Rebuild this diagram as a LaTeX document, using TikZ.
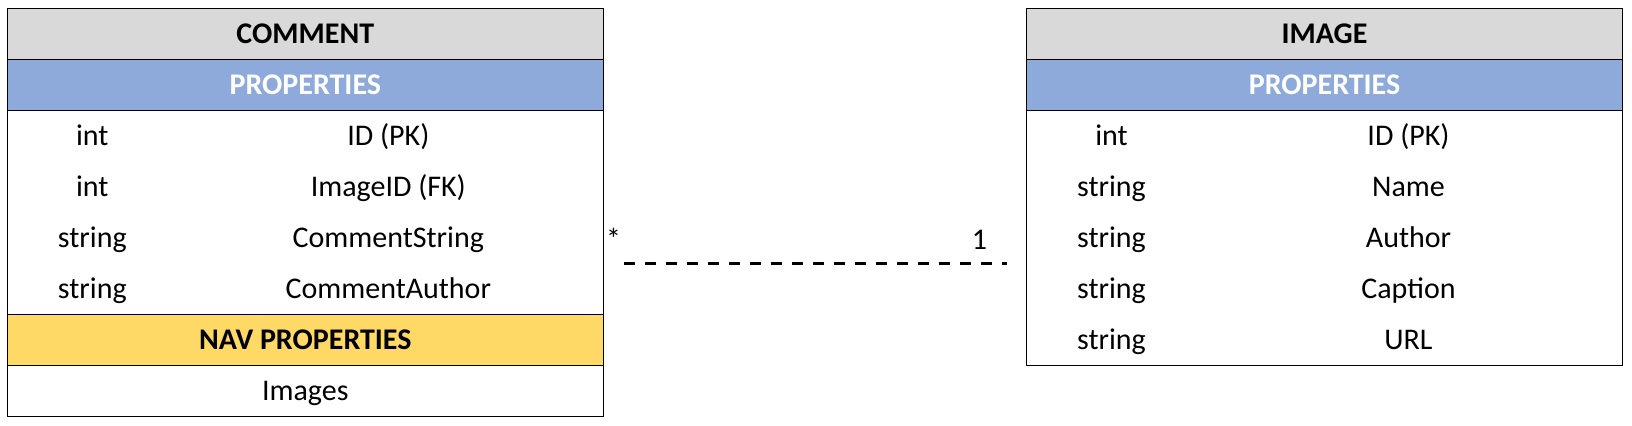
\documentclass[tikz,border=0pt]{standalone}
\usepackage{fontspec}
\setmainfont{Carlito}
\usetikzlibrary{positioning}
\definecolor{hdrgray}{HTML}{D9D9D9}
\definecolor{propblue}{HTML}{8EAADB}
\definecolor{navyellow}{HTML}{FFD966}

\begin{document}
\begin{tikzpicture}[x=0.5pt, y=-0.5pt,
    band/.style={draw, line width=0.7pt, minimum width=298pt, minimum height=25.5pt,
      inner sep=0pt, outer sep=0pt, font=\fontsize{15}{18}\selectfont\bfseries,
      text height=10pt, text depth=0pt},
    hdr/.style={band, fill=hdrgray},
    props/.style={band, fill=propblue, text=white},
    nav/.style={band, fill=navyellow},
    row/.style={minimum width=298pt, minimum height=25.5pt, inner sep=0pt, outer sep=0pt,
      font=\fontsize{15}{18}\selectfont, text height=10pt, text depth=0pt},
    cell/.style={font=\fontsize{15}{18}\selectfont, inner sep=0pt, text height=10pt, text depth=0pt},
    mult/.style={cell, anchor=north},
    rel/.style={dash pattern=on 5.5pt off 5pt, line width=1.5pt},
    node distance=0pt
  ]
  \useasboundingbox (0,0) rectangle (1632,426);

  % COMMENT table
  \node[hdr, anchor=north west] (c-head) at (7.3,8.3) {COMMENT};
  \node[props, below=of c-head] (c-props) {PROPERTIES};
  \node[row, below=of c-props] (c-r1) {};
  \node[row, below=of c-r1] (c-r2) {};
  \node[row, below=of c-r2] (c-r3) {};
  \node[row, below=of c-r3] (c-r4) {};
  \node[nav, below=of c-r4] (c-nav) {NAV PROPERTIES};
  \node[row, below=of c-nav] (c-imgs) {Images};
  \draw[line width=0.7pt] (c-head.north west) rectangle (c-imgs.south east);

  \node[cell] (c-r1-t) at ([xshift=42.5pt]c-r1.west) {int};
  \node[cell] (c-r1-n) at ([xshift=190.5pt]c-r1.west) {ID (PK)};
  \node[cell] (c-r2-t) at ([xshift=42.5pt]c-r2.west) {int};
  \node[cell] (c-r2-n) at ([xshift=190.5pt]c-r2.west) {ImageID (FK)};
  \node[cell] (c-r3-t) at ([xshift=42.5pt]c-r3.west) {string};
  \node[cell] (c-r3-n) at ([xshift=190.5pt]c-r3.west) {CommentString};
  \node[cell] (c-r4-t) at ([xshift=42.5pt]c-r4.west) {string};
  \node[cell] (c-r4-n) at ([xshift=190.5pt]c-r4.west) {CommentAuthor};

  % IMAGE table
  \node[hdr, anchor=north west] (i-head) at (1026.5,8.3) {IMAGE};
  \node[props, below=of i-head] (i-props) {PROPERTIES};
  \node[row, below=of i-props] (i-r1) {};
  \node[row, below=of i-r1] (i-r2) {};
  \node[row, below=of i-r2] (i-r3) {};
  \node[row, below=of i-r3] (i-r4) {};
  \node[row, below=of i-r4] (i-r5) {};
  \draw[line width=0.7pt] (i-head.north west) rectangle (i-r5.south east);

  \node[cell] (i-r1-t) at ([xshift=42.5pt]i-r1.west) {int};
  \node[cell] (i-r1-n) at ([xshift=191pt]i-r1.west) {ID (PK)};
  \node[cell] (i-r2-t) at ([xshift=42.5pt]i-r2.west) {string};
  \node[cell] (i-r2-n) at ([xshift=191pt]i-r2.west) {Name};
  \node[cell] (i-r3-t) at ([xshift=42.5pt]i-r3.west) {string};
  \node[cell] (i-r3-n) at ([xshift=191pt]i-r3.west) {Author};
  \node[cell] (i-r4-t) at ([xshift=42.5pt]i-r4.west) {string};
  \node[cell] (i-r4-n) at ([xshift=191pt]i-r4.west) {Caption};
  \node[cell] (i-r5-t) at ([xshift=42.5pt]i-r5.west) {string};
  \node[cell] (i-r5-n) at ([xshift=191pt]i-r5.west) {URL};

  % relation
  \draw[rel] ([xshift=10.5pt]c-r3.south east) -- ([xshift=-10pt]i-r3.south west);
  \node[mult, xshift=5.2pt, yshift=17pt] (m-many) at (c-r3.south east) {*};
  \node[mult, xshift=-23.5pt, yshift=17pt] (m-one) at (i-r3.south west) {1};
\end{tikzpicture}
\end{document}
